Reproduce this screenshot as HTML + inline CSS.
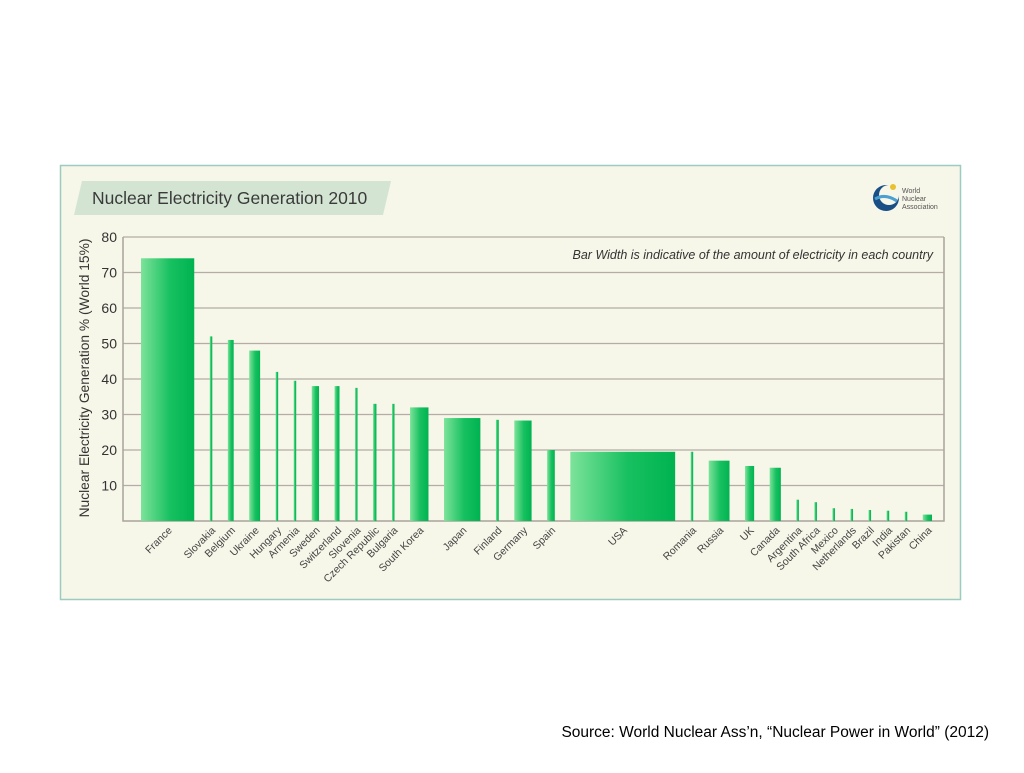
<!DOCTYPE html>
<html><head><meta charset="utf-8"><style>
body{margin:0;width:1024px;height:768px;background:#fff;overflow:hidden;font-family:"Liberation Sans",sans-serif}
</style></head><body>
<svg width="1024" height="768" xmlns="http://www.w3.org/2000/svg" id="chart">
<defs>
<linearGradient id="g" x1="0" x2="1" y1="0" y2="0"><stop offset="0" stop-color="#7de39a"/><stop offset="0.55" stop-color="#17c060"/><stop offset="1" stop-color="#00b350"/></linearGradient>
</defs>
<rect x="60.5" y="165.5" width="900" height="434" fill="#f6f6e9" stroke="#9ccbc0" stroke-width="1.5"/>
<polygon points="82,181 391,181 383,215 74,215" fill="#d3e5d2"/>
<text x="92" y="204" font-size="17.5" fill="#3a3a3a">Nuclear Electricity Generation 2010</text>
<g>
<circle cx="886" cy="198" r="13" fill="#1a4f86"/>
<circle cx="889" cy="195" r="10" fill="#f6f6e9"/>
<path d="M875,199 q10,-6 22,2" stroke="#4aa0d0" stroke-width="3" fill="none"/>
<circle cx="893" cy="187" r="3" fill="#e8c030"/>
<text x="902" y="193" font-size="7" fill="#555">World</text>
<text x="902" y="201" font-size="7" fill="#555">Nuclear</text>
<text x="902" y="209" font-size="7" fill="#555">Association</text>
</g>
<text x="933" y="259" font-size="12.5" font-style="italic" fill="#333" text-anchor="end">Bar Width is indicative of the amount of electricity in each country</text>
<text transform="translate(89,378) rotate(-90)" font-size="13.8" fill="#333" text-anchor="middle">Nuclear Electricity Generation % (World 15%)</text>
<g id="grid"></g><g id="bars"></g><g id="labels"></g>
<text x="989" y="737" font-size="15.5" fill="#000" text-anchor="end">Source:  World Nuclear Ass’n, “Nuclear Power in World” (2012)</text>
</svg>
<script>
const countries=["France","Slovakia","Belgium","Ukraine","Hungary","Armenia","Sweden","Switzerland","Slovenia","Czech Republic","Bulgaria","South Korea","Japan","Finland","Germany","Spain","USA","Romania","Russia","UK","Canada","Argentina","South Africa","Mexico","Netherlands","Brazil","India","Pakistan","China"];
const sharePct=[74,52,51,48,42,39.5,38,38,37.5,33,33,32,29,28.5,28.3,20,19.5,19.5,17,15.5,15,6,5.3,3.6,3.4,3.1,2.9,2.6,1.8];
const generationTWh=[410,14,45,84,15,2.3,56,38,5.4,26,15,142,280,22,133,59,807,11,160,70,86,6.7,12,5.6,3.8,13.8,20,2.6,71];
const yTicks=[10,20,30,40,50,60,70,80];
const NS="http://www.w3.org/2000/svg";
const x0=123,x1=944,yTop=237,yBot=521,startX=141,endX=932;
const y=v=>yBot-(v/80)*(yBot-yTop);
const w=t=>Math.max(2.5,t/7.7);
function mk(tag,attrs,parent){const e=document.createElementNS(NS,tag);for(const k in attrs)e.setAttribute(k,attrs[k]);parent.appendChild(e);return e;}
const grid=document.getElementById('grid');
yTicks.forEach(t=>{
 const l=mk('line',{x1:x0,x2:x1,y1:y(t),y2:y(t),stroke:'#b5ada5','stroke-width':1.3},grid);
 
 
 const tx=mk('text',{x:117,y:y(t)+5,'font-size':14,fill:'#333','text-anchor':'end'},grid);
 tx.textContent=t;
 
 
});
const ax=mk('path',{d:`M${x0},${yTop} V${yBot} H${x1} V${yTop}`,stroke:'#aaa39c','stroke-width':1.5,fill:'none'},grid);


const widths=generationTWh.map(w);
const total=widths.reduce((a,b)=>a+b,0);
const gap=(endX-startX-total)/(countries.length-1);
let cx=startX;
const bars=document.getElementById('bars'),labels=document.getElementById('labels');
countries.forEach((c,i)=>{
 const bw=widths[i];
 const r=mk('rect',{x:cx,y:y(sharePct[i]),width:bw,height:yBot-y(sharePct[i]),fill:'url(#g)'},bars);
 
 
 const mid=cx+bw/2+5;
 const t=mk('text',{x:0,y:0,'font-size':10.5,fill:'#444','text-anchor':'end',transform:`translate(${mid},${531}) rotate(-45)`},labels);
 t.textContent=c;
 
 
 cx+=bw+gap;
});
</script>
</body></html>
